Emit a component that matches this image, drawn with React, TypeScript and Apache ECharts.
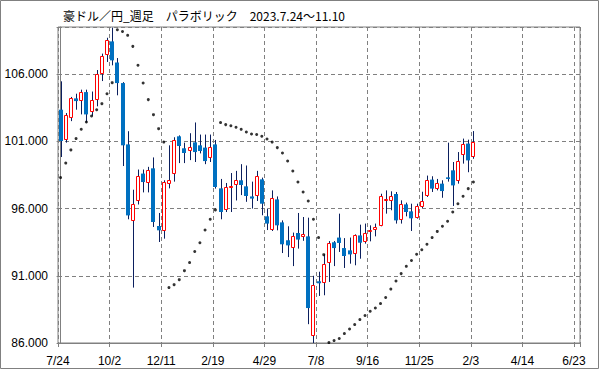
import React, { useEffect, useRef } from "react";
import * as echarts from "echarts";

const titleText = "豪ドル／円_週足　パラボリック　2023.7.24～11.10";
const tickLabels = ["7/24", "10/2", "12/11", "2/19", "4/29", "7/8", "9/16", "11/25", "2/3", "4/14", "6/23"];

const openV = [
  103.35, 101.12, 102.76, 104.19, 103.99, 104.66, 103.18, 104.1, 106.03, 107.39,
  108.43, 106.86, 105.33, 100.77, 95.07, 96.56, 98.6, 97.9, 98.99, 94.7,
  94.3, 97.85, 98.6, 101.37, 100.48, 100.3, 100.92, 100.7, 100.53, 99.78,
  100.77, 97.5, 95.92, 97.6, 97.78, 98.1, 97.65, 96.9, 96.9, 98.17,
  95.42, 94.43, 96.68, 94.97, 93.64, 93.06, 94.18, 93.88, 93.93, 86.53,
  90.59, 90.46, 91.98, 93.49, 93.84, 93.06, 92.89, 92.65, 94.0, 93.54,
  94.25, 94.38, 94.73, 96.63, 96.56, 97.08, 95.18, 96.31, 95.79, 95.29,
  96.11, 96.93, 98.15, 97.48, 97.85, 98.32, 98.84, 98.04, 100.0, 100.83,
  99.83,
];
const closeV = [
  101.02, 102.93, 104.25, 103.99, 104.64, 103.0, 104.05, 105.98, 107.32, 108.5,
  107.02, 105.33, 100.7, 95.49, 96.36, 98.45, 97.97, 98.89, 95.0, 94.38,
  97.95, 98.15, 101.12, 100.65, 100.13, 100.55, 100.2, 100.28, 99.53, 100.6,
  97.6, 95.74, 97.63, 97.7, 98.15, 97.75, 96.93, 96.74, 98.39, 96.36,
  94.88, 96.81, 94.75, 93.34, 93.26, 93.99, 93.69, 94.13, 88.6, 90.35,
  90.44, 91.9, 93.46, 93.06, 93.44, 92.47, 92.59, 94.0, 93.46, 94.2,
  94.43, 94.65, 96.91, 96.74, 96.9, 95.12, 96.36, 95.74, 95.27, 96.16,
  96.59, 98.15, 97.48, 97.93, 97.3, 98.2, 97.72, 99.51, 100.77, 99.58,
  100.94,
];
const lowV = [
  99.83, 100.9, 102.5, 103.35, 103.0, 102.4, 102.9, 103.6, 105.48, 106.9,
  106.65, 104.42, 99.16, 95.2, 90.12, 96.3, 97.2, 97.2, 94.63, 93.51,
  93.76, 97.5, 98.0, 99.38, 99.38, 99.6, 99.46, 100.1, 99.3, 99.46,
  97.48, 95.2, 95.74, 95.74, 96.6, 97.0, 96.5, 96.0, 96.56, 95.5,
  94.4, 94.33, 94.38, 92.69, 92.39, 91.72, 93.02, 93.6, 87.4, 86.0,
  89.5, 89.55, 90.54, 91.72, 92.77, 91.58, 91.9, 91.78, 92.27, 93.39,
  93.56, 93.93, 94.68, 95.62, 95.87, 94.88, 94.88, 95.42, 94.33, 95.25,
  96.04, 96.86, 97.23, 97.35, 96.8, 98.0, 96.19, 97.85, 99.34, 98.7,
  99.7,
];
const highV = [
  105.46, 103.1, 104.3, 104.54, 104.84, 104.84, 104.7, 106.3, 107.52, 108.7,
  109.45, 107.19, 105.4, 101.75, 97.4, 98.9, 98.9, 99.1, 99.8, 95.67,
  98.1, 100.7, 101.3, 101.44, 100.9, 101.6, 102.4, 101.5, 101.5, 101.5,
  101.1, 98.2, 97.9, 98.64, 98.8, 99.3, 99.2, 98.0, 98.8, 98.3,
  96.0, 97.35, 96.9, 95.12, 94.68, 94.21, 95.67, 95.37, 95.32, 91.0,
  91.3, 92.6, 93.58, 93.58, 95.62, 93.8, 93.84, 94.08, 94.8, 94.88,
  94.75, 94.88, 97.1, 97.35, 97.28, 97.23, 96.61, 96.44, 96.36, 96.36,
  97.25, 98.45, 98.4, 98.2, 98.1, 100.9, 99.46, 100.2, 101.2, 101.12,
  101.76,
];
const sarV = [
  98.3, 99.38, 100.36, 101.2, 101.9, 102.43, 102.88, 103.35, 103.8, 104.54,
  105.36, 109.3, 109.17, 108.88, 108.06, 106.65, 105.33, 104.1, 102.98, 101.94,
  100.94, 90.12, 90.34, 90.71, 91.38, 91.98, 92.8, 93.46, 94.4, 95.2,
  95.9, 102.39, 102.24, 102.16, 102.04, 101.89, 101.69, 101.54, 101.5, 101.37,
  101.17, 100.94, 100.53, 100.13, 99.53, 98.79, 97.97, 97.23, 96.56, 95.2,
  93.84, 92.57, 86.03, 86.18, 86.33, 86.7, 87.04, 87.37, 87.74, 88.04,
  88.36, 88.6, 88.93, 89.38, 90.01, 90.61, 91.16, 91.7, 92.13, 92.6,
  92.94, 93.34, 93.84, 94.3, 94.68, 95.05, 95.74, 96.36, 96.91, 97.48,
  97.97,
];

const BLUE = "#0070C0";
const RED = "#FF0000";
const WICK = "#0B1F5E";
const GRAY = "#808080";

export default function App() {
  const ref = useRef<HTMLDivElement>(null);
  useEffect(() => {
    document.body.style.margin = "0";
    const chart = echarts.init(ref.current!, null, { renderer: "svg" });
    const candles = openV.map((o, i) => [i, o, closeV[i], lowV[i], highV[i]]);
    const sar = sarV.map((v, i) => [i, v]);
    const axisFont = { fontFamily: "Liberation Sans", fontSize: 12, color: "#000" };
    chart.setOption({
      animation: false,
      backgroundColor: "#fff",
      title: {
        text: titleText,
        left: 63,
        top: 7,
        padding: 0,
        textStyle: { fontFamily: "Noto Sans CJK JP", fontSize: 12, fontWeight: "normal", color: "#000", lineHeight: 16 },
      },
      grid: { left: 58, right: 19, top: 27, bottom: 26, show: true, borderColor: GRAY, borderWidth: 1, backgroundColor: "transparent" },
      xAxis: {
        type: "value",
        min: -0.5,
        max: 100.66,
        interval: 10,
        axisLine: { lineStyle: { color: GRAY } },
        axisTick: { show: true, length: 4, lineStyle: { color: GRAY } },
        splitLine: { show: true, lineStyle: { color: GRAY, type: [4, 3], width: 1 } },
        axisLabel: {
          ...axisFont,
          margin: 12,
          formatter: (v: number) => {
            const k = Math.round((v + 0.5) / 10);
            if (Math.abs(v + 0.5 - k * 10) > 0.01) return "";
            return tickLabels[k] ?? "";
          },
        },
      },
      yAxis: {
        type: "value",
        min: 86,
        max: 109.5,
        interval: 5,
        axisLine: { show: true, lineStyle: { color: GRAY } },
        axisTick: { show: true, length: 4, lineStyle: { color: GRAY } },
        splitLine: { show: true, lineStyle: { color: GRAY, type: [4, 3], width: 1 } },
        axisLabel: {
          ...axisFont,
          margin: 10,
          formatter: (v: number) => {
            const d = (v - 86) / 5;
            if (Math.abs(d - Math.round(d)) > 0.001) return "";
            return v.toFixed(3);
          },
        },
      },
      graphic: [
        {
          type: "rect",
          shape: { x: 0.5, y: 0.5, width: 598, height: 368 },
          style: { fill: "none", stroke: GRAY, lineWidth: 1 },
          z: 100,
        },
      ],
      series: [
        {
          type: "custom",
          data: candles,
          encode: { x: 0, y: [1, 2, 3, 4] },
          renderItem: (params: any, api: any) => {
            const i = api.value(0);
            const o = api.value(1);
            const c = api.value(2);
            const l = api.value(3);
            const h = api.value(4);
            const pH = api.coord([i, h]);
            const pL = api.coord([i, l]);
            const pO = api.coord([i, o]);
            const pC = api.coord([i, c]);
            const xi = Math.round(pH[0]);
            const top = Math.min(pO[1], pC[1]);
            const bot = Math.max(pO[1], pC[1]);
            const up = c >= o;
            const wick = {
              type: "line",
              shape: { x1: xi + 0.5, y1: pH[1], x2: xi + 0.5, y2: pL[1] },
              style: { stroke: WICK, lineWidth: 1 },
            };
            const body = up
              ? {
                  type: "rect",
                  shape: {
                    x: xi - 1.5,
                    y: Math.round(top) + 0.5,
                    width: 3,
                    height: Math.max(1, Math.round(bot) - Math.round(top) - 1),
                  },
                  style: { fill: "#fff", stroke: RED, lineWidth: 1 },
                }
              : {
                  type: "rect",
                  shape: { x: xi - 2, y: top, width: 4, height: Math.max(1, bot - top) },
                  style: { fill: BLUE },
                };
            return { type: "group", children: [wick, body] };
          },
          z: 3,
        },
        {
          type: "scatter",
          data: sar,
          symbol: "circle",
          symbolSize: 3,
          itemStyle: { color: "#000" },
          z: 4,
        },
      ],
    });
    return () => chart.dispose();
  }, []);
  return <div ref={ref} style={{ width: 599, height: 369 }} />;
}
